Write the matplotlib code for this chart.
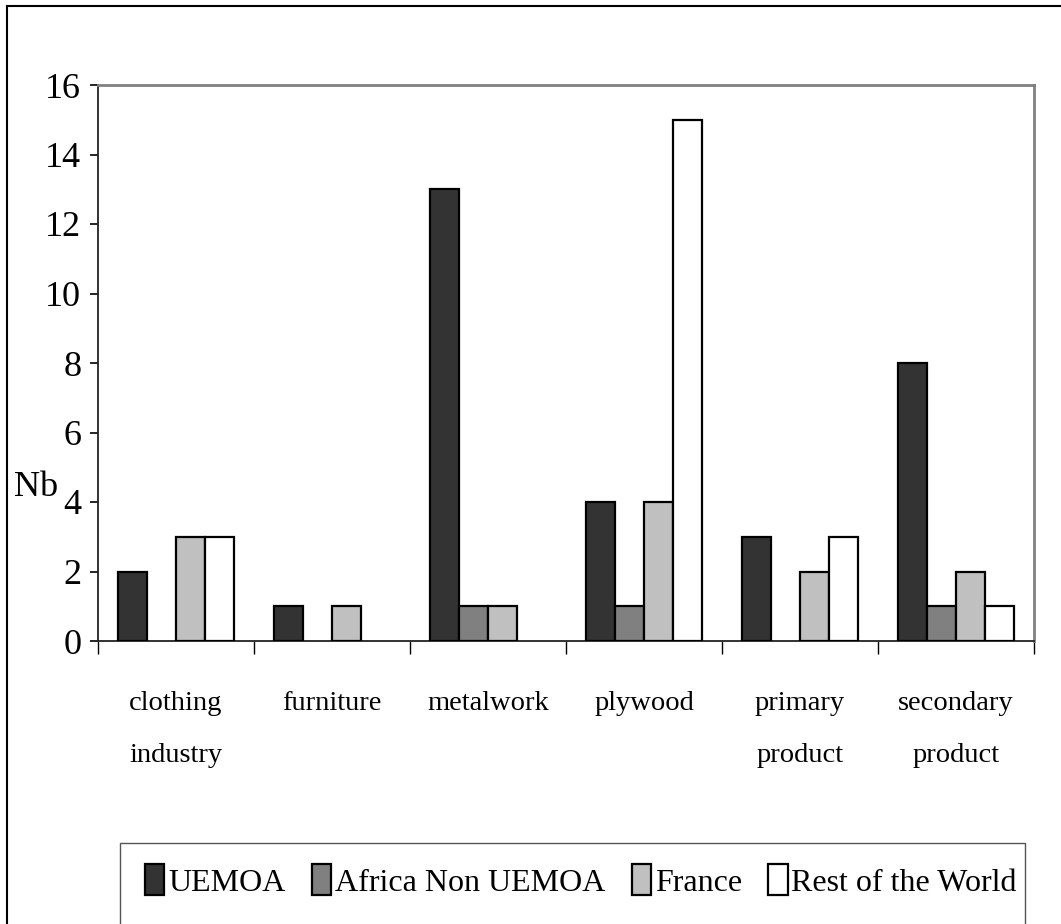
import matplotlib
matplotlib.use("Agg")
import matplotlib.pyplot as plt
from matplotlib.patches import Rectangle, Patch
from matplotlib.lines import Line2D
import numpy as np

plt.rcParams['font.family'] = ['Liberation Serif', 'DejaVu Serif']

categories = ["clothing\nindustry", "furniture", "metalwork", "plywood",
              "primary\nproduct", "secondary\nproduct"]
series_names = ["UEMOA", "Africa Non UEMOA", "France", "Rest of the World"]
uemoa = [2, 1, 13, 4, 3, 8]
africa_non_uemoa = [0, 0, 1, 1, 0, 1]
france = [3, 1, 1, 4, 2, 2]
rest_of_world = [3, 0, 0, 15, 3, 1]
series_values = [uemoa, africa_non_uemoa, france, rest_of_world]
colors = ["#333333", "#808080", "#C0C0C0", "#FFFFFF"]
yticks = [0, 2, 4, 6, 8, 10, 12, 14, 16]

W, H = 1061, 924
fig = plt.figure(figsize=(W / 100, H / 100), dpi=100)

ax = fig.add_axes([98 / W, (H - 641) / H, 936 / W, 556 / H])

n = len(categories)
x = np.arange(n) + 0.5
bw = 0.186
handles = []
for j, (name, vals, c) in enumerate(zip(series_names, series_values, colors)):
    lws = [1.6 if v > 0 else 0 for v in vals]
    ax.bar(x + (j - 1.5) * bw, vals, width=bw, color=c, edgecolor="black",
           linewidth=lws, label=name, zorder=3)
    handles.append(Patch(facecolor=c, edgecolor="black", linewidth=1.6, label=name))

ax.set_xlim(0, n)
ax.set_ylim(0, 16)
ax.set_yticks(yticks)
ax.set_yticklabels([str(v) for v in yticks], fontsize=26)
ax.tick_params(axis='y', direction='out', length=6, width=1.2, pad=6, colors='black')

ax.set_xticks(x)
ax.set_xticklabels(categories, fontsize=20.5, linespacing=2.4)
ax.tick_params(axis='x', which='major', length=0, pad=36)
ax.set_xticks(np.arange(n + 1), minor=True)
ax.tick_params(axis='x', which='minor', direction='out', length=9, width=1.0, color='black')

for s in ['top', 'right']:
    ax.spines[s].set_color('#808080')
    ax.spines[s].set_linewidth(2.0)
for s in ['left', 'bottom']:
    ax.spines[s].set_color('#222222')
    ax.spines[s].set_linewidth(1.3)

fig.text(14 / W, 1 - 487 / H, "Nb", fontsize=26, ha='left', va='center')

# figure outer border (top and left visible)
fig.add_artist(Line2D([7 / W, 7 / W], [1 - 6 / H, 0], transform=fig.transFigure,
                      color='black', linewidth=1.5))
fig.add_artist(Line2D([7 / W, 1], [1 - 6 / H, 1 - 6 / H], transform=fig.transFigure,
                      color='black', linewidth=1.5))

# legend frame
fig.add_artist(Rectangle((120 / W, -0.01), (1025 - 120) / W, (H - 843) / H + 0.01,
                         transform=fig.transFigure, fill=False,
                         edgecolor='#555555', linewidth=1.0))

leg = fig.legend(handles=handles, labels=series_names, loc='center left',
                 bbox_to_anchor=(145 / W, 1 - 881 / H), ncol=4, frameon=False,
                 fontsize=23, handlelength=0.6, handleheight=1.1,
                 handletextpad=0.12, columnspacing=0.83, borderpad=0, borderaxespad=0)

fig.savefig("out.png", dpi=100)
